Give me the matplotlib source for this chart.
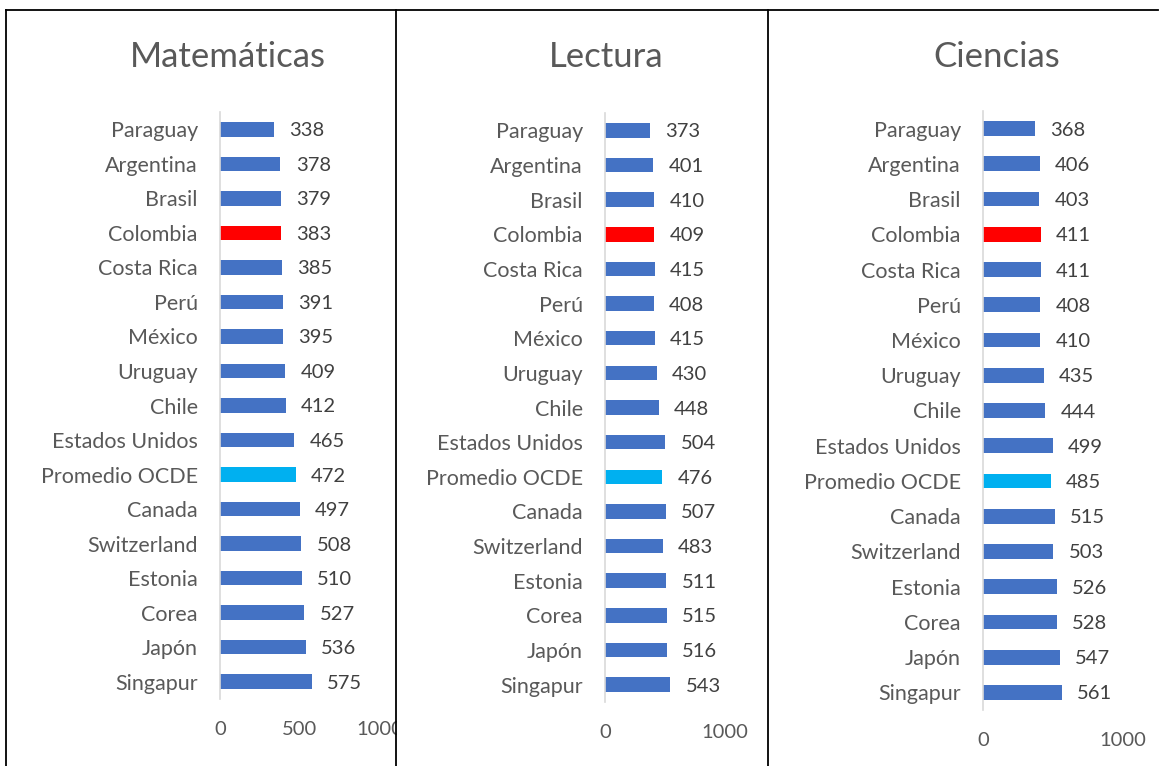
import matplotlib
matplotlib.use("Agg")
from matplotlib import pyplot as plt
from matplotlib.patches import Rectangle
from matplotlib.lines import Line2D

plt.rcParams["font.family"] = ["Lato", "DejaVu Sans"]

W, H = 1159, 766

countries = ["Paraguay", "Argentina", "Brasil", "Colombia", "Costa Rica", "Perú",
             "México", "Uruguay", "Chile", "Estados Unidos", "Promedio OCDE",
             "Canada", "Switzerland", "Estonia", "Corea", "Japón", "Singapur"]
matematicas = [338, 378, 379, 383, 385, 391, 395, 409, 412, 465, 472, 497, 508, 510, 527, 536, 575]
lectura = [373, 401, 410, 409, 415, 408, 415, 430, 448, 504, 476, 507, 483, 511, 515, 516, 543]
ciencias = [368, 406, 403, 411, 411, 408, 410, 435, 444, 499, 485, 515, 503, 526, 528, 547, 561]

titles = ["Matemáticas", "Lectura", "Ciencias"]
xticks = [[0, 500, 1000], [0, 1000], [0, 1000]]

BLUE = "#4472C4"
RED = "#FF0000"
CYAN = "#00B0F0"
GREY = "#595959"


def bar_colors(names):
    out = []
    for n in names:
        if n == "Colombia":
            out.append(RED)
        elif n == "Promedio OCDE":
            out.append(CYAN)
        else:
            out.append(BLUE)
    return out


def px_box(left, top, right, bottom):
    """ Pixel box -> figure fraction rect. """
    return [left / W, 1 - bottom / H, (right - left) / W, (bottom - top) / H]


fig = plt.figure(figsize=(W / 100, H / 100), dpi=100)

# axes boxes in pixels (left, top, right, bottom)
boxes = [(220, 112, 380, 699), (605, 113, 725, 702), (983, 111, 1123, 710)]
title_x = [228, 606, 997]
series = [matematicas, lectura, ciencias]

for box, vals, title, tx, ticks in zip(boxes, series, titles, title_x, xticks):
    ax = fig.add_axes(px_box(*box))
    y = list(range(len(countries)))
    ax.barh(y, vals, height=0.42, color=bar_colors(countries))
    ax.set_ylim(len(countries) - 0.5, -0.5)
    ax.set_xlim(0, 1000)
    ax.set_yticks(y)
    ax.set_yticklabels(countries)
    ax.set_xticks(ticks)
    ax.tick_params(axis="both", length=0, colors=GREY)
    ax.tick_params(axis="y", pad=16, labelsize=15.5)
    ax.tick_params(axis="x", pad=16, labelsize=14.5)
    for s in ["top", "right", "bottom"]:
        ax.spines[s].set_visible(False)
    ax.spines["left"].set_color("#D9D9D9")
    ax.spines["left"].set_linewidth(1.2)
    for yi, v in zip(y, vals):
        ax.annotate(str(v), (v, yi), xytext=(11, 0), textcoords="offset points",
                    va="center_baseline", ha="left", fontsize=14.5, color="#404040")
    fig.text(tx / W, 1 - 57 / H, title, ha="center", va="center",
             fontsize=25, color=GREY)

# cut the end of the first panel's "1000"
fig.add_artist(Rectangle((396.5 / W, 1 - 750 / H), 12 / W, 40 / H,
                         transform=fig.transFigure, color="white", zorder=5))

# frame lines
lw = 1.3
fig.add_artist(Line2D([6 / W, 1158 / W], [1 - 10 / H, 1 - 10 / H], color="black", lw=lw, zorder=6))
for xp in [6, 396, 768]:
    fig.add_artist(Line2D([xp / W, xp / W], [0, 1 - 10 / H], color="black", lw=lw, zorder=6))

fig.savefig("out.png", dpi=100)
